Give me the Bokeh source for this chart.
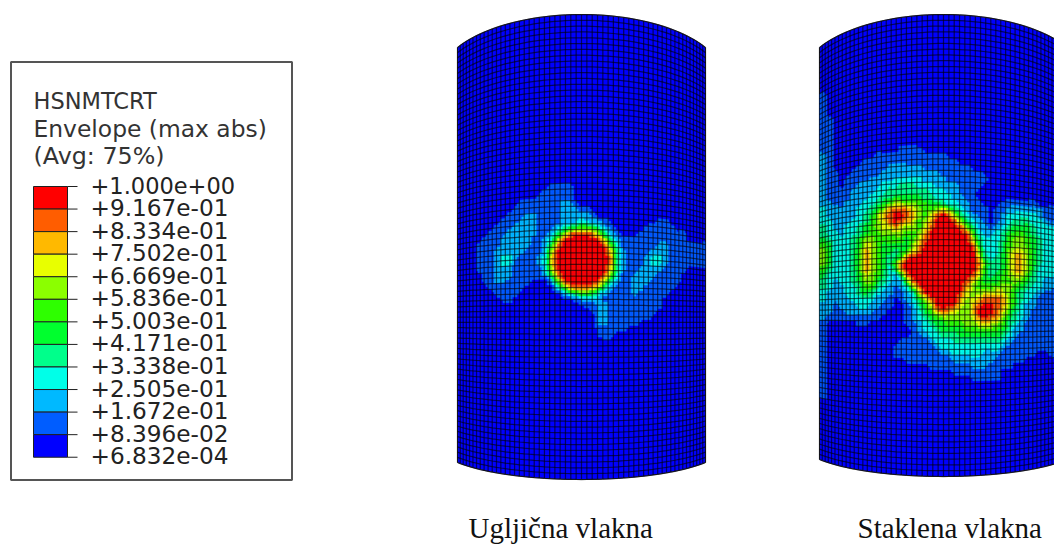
import numpy as np
from bokeh.plotting import figure
from bokeh.models import Range1d
from bokeh.core.properties import value
from bokeh.embed import file_html
from bokeh.resources import INLINE

LEVEL_COLORS = ["#0000ff", "#005dff", "#00b9ff", "#00ffe8", "#00ff8b", "#00ff2e",
                "#2eff00", "#8bff00", "#e8ff00", "#ffb900", "#ff5d00", "#ff0000"]
LEGEND_TITLE = ["HSNMTCRT", "Envelope (max abs)", "(Avg: 75%)"]
LEGEND_LABELS = ["+1.000e+00", "+9.167e-01", "+8.334e-01", "+7.502e-01", "+6.669e-01",
                 "+5.836e-01", "+5.003e-01", "+4.171e-01", "+3.338e-01", "+2.505e-01",
                 "+1.672e-01", "+8.396e-02", "+6.832e-04"]
CAPTIONS = ["Ugljična vlakna", "Staklena vlakna"]

# Contour level (hex digit, 0-b) on a 6 px grid
CARBON_FIELD = [
    "", "",
    "0000000000000 1111",
    "000000000000 11111",
    "00000000000 111111",
    "00000000 1111111 22 1",
    "0000000 11111111 222 11",
    "000000 111 22 1111 22222 1",
    "00000 111 222 1111 222 3 222 1 00000000 11",
    "0000 111 2222 111 2345 66 5321 00000 11111",
    "000 111 22222 11 2 4 6 9 aaa 9 7 4 2 1 000 11111111",
    "00 111 22222 11 2 3 7 a bbbbb a 7 4 2 11111111111",
    "0 1111 22222 11 2 5 9 bbbbbbb a 6 3 111111 22 1111",
    "0 111 22222 11 1 3 7 bbbbbbbbb 8 4 2 1111 222 1111",
    "0 111 2 33 2 111 2 3 8 bbbbbbbbb 9 4 2 111 2 33 2 1111",
    "0 111 2 33 1111 2 3 8 bbbbbbbbb 9 4 2 111 2 33 2 1111",
    "0 111 222 1111 1 3 7 bbbbbbbbb 8 4 2 11 2222 1111",
    "00 11 222 1111 1 2 5 9 bbbbbbb a 6 3 11 2222 1111",
    "00 11 22 1111 000 2 6 a bbbbb a 7 4 2 11 222 11111",
    "000 111111 00000 3 6 9 aaa 9 7 4 2 111 22 11111",
    "0000 1111 0000000 2 4 5 66 5 3 2 1111 2 11111",
    "00000 11 000000000 0 1 2222 1111111111",
    "0000000000000000000 11 22 111111111",
    "00000000000000000000 1 22 11111111",
    "000000000000000000000 22 1111111",
    "000000000000000000000 22 11111",
    "000000000000000000000 11111",
    "000000000000000000000 111",
    "", "",
]
GLASS_FIELD = [
    "", "",
    "1", "1", "1", "1",
    "11", "11", "11", "11", "11",
    "1100000000000 1111",
    "21 0000000 111111111111",
    "21 00000 1111111111111111",
    "21 0000 11111 222222 11111111",
    "211 00 11111 2222222222 1111111",
    "211 0 1111 2222 33333 2222 1111111",
    "211 0 11 2222 333 444 333 2222 1111",
    "2111 1 2222 33 4444444 333 22 111",
    "2111 1 222 33 44 55555 44 333 22 11",
    "2211 222 33 4 5 6 7777 66 55 4 33 22 11 000 111111",
    "3222 22 33 4 5 7 9 aa 9 8 7 66 7 8 6 4 3 2 111 0 11 222222 111",
    "3222 22 3 4 5 7 9 a bb a 9 7 6 8 a b a 7 4 3 2 11 0 1 2 33333 2 111",
    "3322233457 8aba98679b bba7432101 2344433211",
    "4322334567 88987768ab bbba742212 3455543332",
    "4332334566 77776679bb bbbba63223 4566543333",
    "5433345776 6666568abb bbbbb84333 4677654333",
    "6533345886 5555579bbb bbbbba5333 5677654333",
    "7533346986 554568abbb bbbbbb7333 5788754333",
    "7533346986 5446abbbbb bbbbbb8434 5799754333",
    "7533346986 546abbbbbb bbbbbba644 5799754333",
    "6433346986 535abbbbbb bbbbbb9544 5799753333",
    "5333345876 5325abbbbb bbbbba8545 6788643332",
    "4323345775 43227abbbb bbbba86555 6676543222",
    "4322334664 321237abbb bbbb976667 7765433221",
    "3222334543 2211238bbb bbba877888 8754332111",
    "3222233332 21012357ab bbb9789aaa 9754321111",
    "2212223322 110012468b bba879abba 9753221111",
    "2211222221 1000123569 a98779bbba 8643211111",
    "2111111111 0000123456 777778aba9 7543211111",
    "1000001100 0000112345 5666778987 6432111111",
    "1000000000 0000012334 5555666666 5422111111",
    "1000000000 0000011233 4445555555 4321111111",
    "1000000000 0001111123 3344444444 3211111111",
    "1000000000 0011111112 3333333333 2111111111",
    "1000000000 0011111111 2233333222 1111110011",
    "1000000000 0000111111 1122222221 1111000000",
    "1000000000 0000000011 1111122211 11",
    "1000000000 0000000000 0011111111",
    "1000000000 0000000000 0000011111",
    "1", "1", "1",
]

W, H = 1054, 545
p = figure(width=W, height=H, x_range=Range1d(0, W), y_range=Range1d(H, 0),
           output_backend="svg", toolbar_location=None, min_border=0)
p.axis.visible = False
p.grid.visible = False
p.outline_line_color = None
p.background_fill_color = "white"
p.border_fill_color = "white"
p.styles = {"position": "absolute", "left": "0", "top": "0"}

TH = np.radians(60.0)
NCOL, NROW = 56, 80
HALF = 124.0
SUB = 2
FIELD_STEP = 6.0


def to_grid(field):
    rows = [r.replace(" ", "") for r in field]
    nc = max(len(r) for r in rows)
    g = np.zeros((len(rows), nc))
    for i, r in enumerate(rows):
        for j, ch in enumerate(r):
            g[i, j] = int(ch, 16)
    return g


def sample(g, x, y, fx0, fy0):
    # contour the read-off grid at (x, y)
    u = (x - fx0) / FIELD_STEP - 0.5
    v = (y - fy0) / FIELD_STEP - 0.5
    nr, nc = g.shape
    if v < -0.5 or v > nr - 0.5:
        return 0
    u = min(max(u, 0.0), nc - 1.001)
    v = min(max(v, 0.0), nr - 1.001)
    i, j = int(v), int(u)
    fv, fu = v - i, u - j
    val = (g[i, j] * (1 - fu) * (1 - fv) + g[i, j + 1] * fu * (1 - fv)
           + g[i + 1, j] * (1 - fu) * fv + g[i + 1, j + 1] * fu * fv)
    return int(round(val))


def cylinder(cx, ytop, ybot, stop, sbot, field, fx0, fy0):
    R = HALF / np.sin(TH)
    theta = np.linspace(-TH, TH, NCOL + 1)
    tt = np.linspace(0, 1, NROW + 1)
    X = cx + R * np.sin(theta)
    bow = (np.cos(theta) - np.cos(TH)) / (1 - np.cos(TH))
    ye = ytop + (ybot - ytop) * tt
    sag = stop + (sbot - stop) * tt
    Y = ye[:, None] - sag[:, None] * bow[None, :]
    XX = np.repeat(X[None, :], NROW + 1, axis=0)

    ox = list(X) + list(X[::-1])
    oy = list(Y[0]) + list(Y[-1][::-1])
    p.patch(ox, oy, fill_color=LEVEL_COLORS[0], line_color="#30304a", line_width=1)

    g = to_grid(field)
    xs, ys, cs = [], [], []
    for i in range(NROW):
        for j in range(NCOL):
            for a in range(SUB):
                for b in range(SUB):
                    f0, f1 = a / SUB, (a + 1) / SUB
                    h0, h1 = b / SUB, (b + 1) / SUB
                    x0 = X[j] + (X[j + 1] - X[j]) * h0
                    x1 = X[j] + (X[j + 1] - X[j]) * h1
                    yl0 = Y[i, j] + (Y[i + 1, j] - Y[i, j]) * f0
                    yl1 = Y[i, j] + (Y[i + 1, j] - Y[i, j]) * f1
                    yr0 = Y[i, j + 1] + (Y[i + 1, j + 1] - Y[i, j + 1]) * f0
                    yr1 = Y[i, j + 1] + (Y[i + 1, j + 1] - Y[i, j + 1]) * f1
                    lv = sample(g, (x0 + x1) / 2, (yl0 + yl1 + yr0 + yr1) / 4, fx0, fy0)
                    if lv > 0:
                        ya = yl0 + (yr0 - yl0) * h0
                        yb = yl0 + (yr0 - yl0) * h1
                        yc = yl1 + (yr1 - yl1) * h1
                        yd = yl1 + (yr1 - yl1) * h0
                        xs.append([x0, x1, x1, x0])
                        ys.append([ya, yb, yc, yd])
                        cs.append(LEVEL_COLORS[lv])
    p.patches(xs, ys, fill_color=cs, line_color=cs, line_width=0.5)

    lx = [list(XX[i]) for i in range(NROW + 1)] + [list(XX[:, j]) for j in range(NCOL + 1)]
    ly = [list(Y[i]) for i in range(NROW + 1)] + [list(Y[:, j]) for j in range(NCOL + 1)]
    p.multi_line(lx, ly, line_color="black", line_alpha=0.6, line_width=1.25)


cylinder(581, 47, 462, 33, -17, CARBON_FIELD, 470, 170)
cylinder(943, 47, 459, 33, -17, GLASS_FIELD, 820, 80)

p.quad(left=[10.5], right=[291.5], top=[61.5], bottom=[479.5], fill_color="white",
       line_color="#555555", line_width=2)
SANS = value("DejaVu Sans")
for txt, yb, fs in zip(LEGEND_TITLE, [100, 128, 155], ["22.5px", "23.4px", "23.8px"]):
    p.text([33], [yb], text=[txt], text_font=SANS, text_font_size=fs,
           text_color="#333333", text_baseline="alphabetic", text_align="left")

TICK0, STEP = 186.0, 22.56
n = len(LEGEND_LABELS)
ty = TICK0 + STEP * np.arange(n)
sw_colors = LEVEL_COLORS[::-1]
p.quad(left=[33] * (n - 1), right=[67] * (n - 1), top=list(ty[:-1]), bottom=list(ty[1:]),
       fill_color=sw_colors, line_color="#202020", line_width=1)
p.segment(x0=[67] * n, x1=[77] * n, y0=list(ty), y1=list(ty), line_color="#202020", line_width=1)
label_sizes = ["22.5px"] + ["23.2px"] * (n - 1)
p.text([90] * n, list(ty - 1.5), text=LEGEND_LABELS, text_font=SANS, text_font_size=label_sizes,
       text_color="#222222", text_baseline="alphabetic", text_align="left")

SERIF = value("Liberation Serif")
for txt, xl in zip(CAPTIONS, [468, 857]):
    p.text([xl], [527], text=[txt], text_font=SERIF, text_font_size="29px",
           text_color="#111111", text_baseline="alphabetic", text_align="left")

open("out.html", "w").write(file_html(p, INLINE))
